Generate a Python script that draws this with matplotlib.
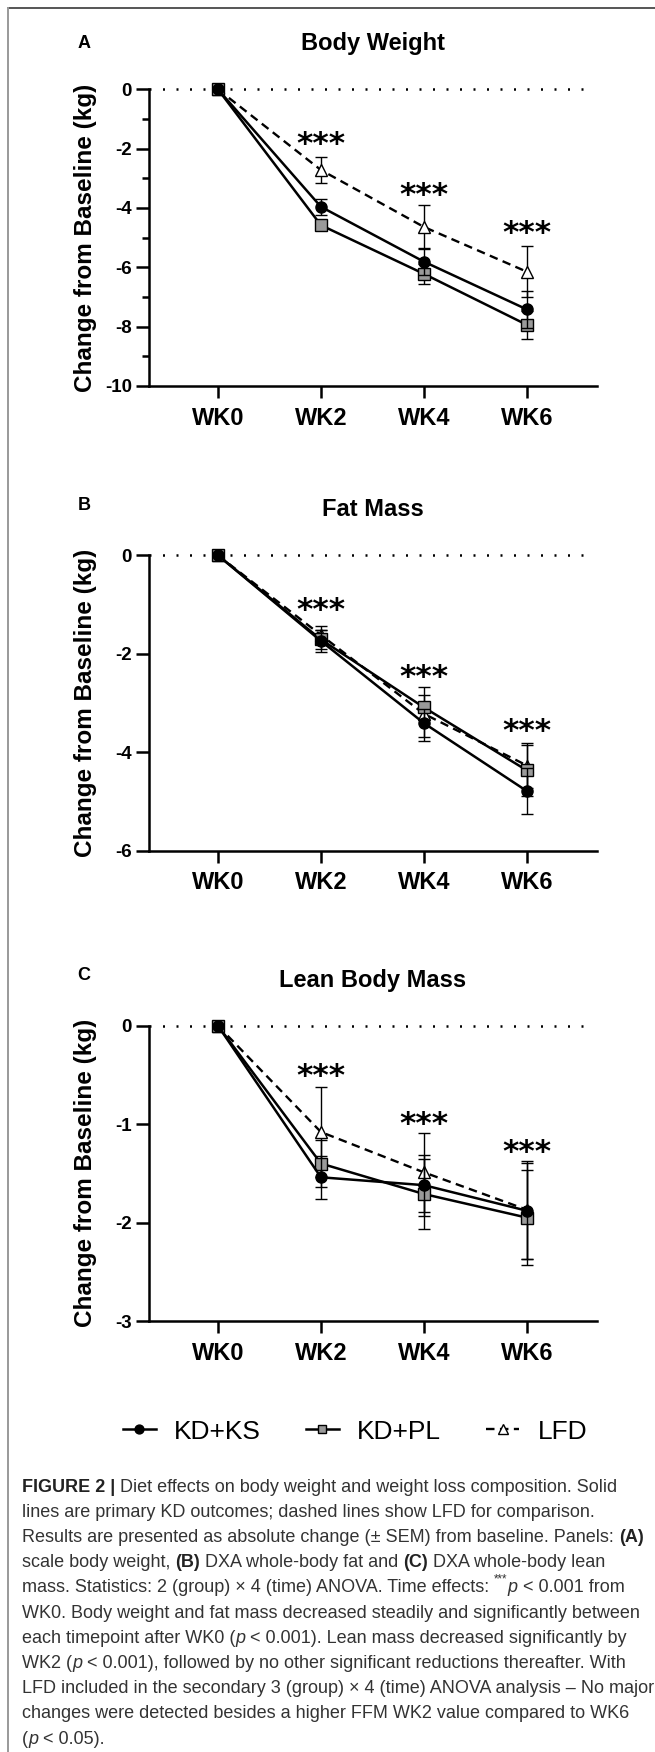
import matplotlib
matplotlib.use("Agg")
import matplotlib.pyplot as plt
from matplotlib.lines import Line2D
from matplotlib.ticker import MultipleLocator
from matplotlib import font_manager

plt.rcParams['font.family'] = ['Liberation Sans', 'DejaVu Sans']

# ---------------- data ----------------
weeks = ["WK0", "WK2", "WK4", "WK6"]
groups = ["KD+KS", "KD+PL", "LFD"]

# Body weight (kg change)
bw_kdks = [0.0, -3.96, -5.81, -7.42]
bw_kdks_err = [0.0, 0.26, 0.45, 0.63]
bw_kdpl = [0.0, -4.58, -6.22, -7.94]
bw_kdpl_err = [0.0, 0.15, 0.34, 0.48]
bw_lfd = [0.0, -2.72, -4.64, -6.15]
bw_lfd_err = [0.0, 0.45, 0.74, 0.86]
bw_stars = [-1.53, -3.23, -4.53]

# Fat mass
fm_kdks = [0.0, -1.74, -3.41, -4.79]
fm_kdks_err = [0.0, 0.23, 0.29, 0.47]
fm_kdpl = [0.0, -1.71, -3.09, -4.37]
fm_kdpl_err = [0.0, 0.20, 0.25, 0.52]
fm_lfd = [0.0, -1.62, -3.22, -4.27]
fm_lfd_err = [0.0, 0.19, 0.55, 0.45]
fm_stars = [-0.91, -2.29, -3.38]

# Lean body mass
lm_kdks = [0.0, -1.54, -1.62, -1.88]
lm_kdks_err = [0.0, 0.22, 0.31, 0.49]
lm_kdpl = [0.0, -1.40, -1.71, -1.95]
lm_kdpl_err = [0.0, 0.24, 0.36, 0.48]
lm_lfd = [0.0, -1.08, -1.49, -1.87]
lm_lfd_err = [0.0, 0.46, 0.40, 0.50]
lm_stars = [-0.42, -0.90, -1.19]

titles = ["Body Weight", "Fat Mass", "Lean Body Mass"]
letters = ["A", "B", "C"]
ylims = [(-10, 0), (-6, 0), (-3, 0)]
ymajor = [2, 2, 1]
yminor = [1, None, None]
ylabel = "Change from Baseline (kg)"

caption_lines = [
    [("FIGURE 2 | ", "b"), ("Diet effects on body weight and weight loss composition. Solid", "r")],
    [("lines are primary KD outcomes; dashed lines show LFD for comparison.", "r")],
    [("Results are presented as absolute change (\u00b1 SEM) from baseline. Panels: ", "r"), ("(A)", "b")],
    [("scale body weight, ", "r"), ("(B)", "b"), (" DXA whole-body fat and ", "r"), ("(C)", "b"),
     (" DXA whole-body lean", "r")],
    [("mass. Statistics: 2 (group) \u00d7 4 (time) ANOVA. Time effects: ", "r"), ("***", "s"), ("p", "i"),
     (" < 0.001 from", "r")],
    [("WK0. Body weight and fat mass decreased steadily and significantly between", "r")],
    [("each timepoint after WK0 (", "r"), ("p", "i"), (" < 0.001). Lean mass decreased significantly by", "r")],
    [("WK2 (", "r"), ("p", "i"), (" < 0.001), followed by no other significant reductions thereafter. With", "r")],
    [("LFD included in the secondary 3 (group) \u00d7 4 (time) ANOVA analysis \u2013 No major", "r")],
    [("changes were detected besides a higher FFM WK2 value compared to WK6", "r")],
    [("(", "r"), ("p", "i"), (" < 0.05).", "r")],
]

panels = [
    (bw_kdks, bw_kdks_err, bw_kdpl, bw_kdpl_err, bw_lfd, bw_lfd_err, bw_stars),
    (fm_kdks, fm_kdks_err, fm_kdpl, fm_kdpl_err, fm_lfd, fm_lfd_err, fm_stars),
    (lm_kdks, lm_kdks_err, lm_kdpl, lm_kdpl_err, lm_lfd, lm_lfd_err, lm_stars),
]

# caption font: prefer a narrow sans if installed
cap_family = "Liberation Sans"
try:
    font_manager.findfont(font_manager.FontProperties(family="Liberation Sans Narrow"),
                          fallback_to_default=False)
    cap_family = "Liberation Sans Narrow"
except Exception:
    pass

# ---------------- layout (pixels) ----------------
W, H = 655, 1752
fig = plt.figure(figsize=(W / 100, H / 100), dpi=100)


def fx(px):
    return px / W


def fy(py):
    return 1 - py / H


ax_left, ax_right = 149, 597
ax_tops = [89.3, 555.3, 1025.7]
ax_bots = [386.0, 850.7, 1321.0]
title_y = [43.5, 509.5, 980.0]
letter_y = [43.0, 505.0, 976.0]
xlim = (-0.669, 3.68)
zero_end = 3.60

xpos = list(range(len(weeks)))
handles = None
for i, (kdks, kdks_e, kdpl, kdpl_e, lfd, lfd_e, stars) in enumerate(panels):
    ax = fig.add_axes([fx(ax_left), fy(ax_bots[i]), (ax_right - ax_left) / W,
                       (ax_bots[i] - ax_tops[i]) / H])
    ax.set_xlim(*xlim)
    ax.set_ylim(*ylims[i])
    for s in ["top", "right"]:
        ax.spines[s].set_visible(False)
    for s in ["left", "bottom"]:
        ax.spines[s].set_linewidth(1.8)

    ax.hlines(0, xlim[0], zero_end, colors="black", linestyles=(0, (0.8, 4.6)),
              linewidth=1.8, zorder=1, clip_on=False)

    common = dict(ecolor="black", elinewidth=1.0, capsize=4.5, capthick=1.0,
                  clip_on=False, markeredgecolor="black")
    c3 = ax.errorbar(xpos, lfd, yerr=lfd_e, color="black", linestyle=(0, (3.6, 2.3)),
                     linewidth=1.7, marker="^", markersize=9, markerfacecolor="white",
                     markeredgewidth=1.0, zorder=3, **common)
    c2 = ax.errorbar(xpos, kdpl, yerr=kdpl_e, color="black", linestyle="-", linewidth=1.8,
                     marker="s", markersize=8, markerfacecolor="#9a9a9a",
                     markeredgewidth=1.0, zorder=4, **common)
    c1 = ax.errorbar(xpos, kdks, yerr=kdks_e, color="black", linestyle="-", linewidth=1.8,
                     marker="o", markersize=8, markerfacecolor="black",
                     markeredgewidth=1.0, zorder=5, **common)
    for c in (c1, c2, c3):
        for art in c.lines[1] + c.lines[2]:
            art.set_clip_on(False)
    if handles is None:
        handles = [c1.lines[0], c2.lines[0], c3.lines[0]]

    # significance stars
    fs_star = 22.5
    for xs, ys in zip(xpos[1:], stars):
        ax.annotate("***", xy=(xs, ys), xytext=(0, -0.59 * fs_star), textcoords="offset points",
                    ha="center", va="baseline", fontsize=fs_star, fontweight="bold",
                    fontfamily="DejaVu Sans", annotation_clip=False)

    ax.set_xticks(xpos)
    ax.set_xticklabels(weeks, fontsize=17, fontweight="bold")
    ax.yaxis.set_major_locator(MultipleLocator(ymajor[i]))
    if yminor[i]:
        ax.yaxis.set_minor_locator(MultipleLocator(yminor[i]))
    ax.set_yticks(ax.get_yticks())
    ax.set_yticklabels([f"{v:g}" for v in ax.get_yticks()], fontsize=13.5, fontweight="bold")
    ax.set_ylim(*ylims[i])
    ax.tick_params(axis="x", direction="out", length=8.9, width=1.8, pad=6)
    ax.tick_params(axis="y", which="major", direction="out", length=9.4, width=1.8, pad=3)
    ax.tick_params(axis="y", which="minor", direction="out", length=5, width=1.8)

    ax.set_ylabel(ylabel, fontsize=17.5, fontweight="bold", va="center")
    ax.yaxis.set_label_coords((86 - ax_left) / (ax_right - ax_left), 0.5)

    fig.text(fx((ax_left + ax_right) / 2), fy(title_y[i]), titles[i], ha="center", va="center",
             fontsize=17, fontweight="bold")
    fig.text(fx(84), fy(letter_y[i]), letters[i], ha="center", va="center",
             fontsize=13, fontweight="bold")

# legend
fig.legend(handles, groups, loc="center", bbox_to_anchor=(fx(355), fy(1431.7)), ncol=3,
           frameon=False, fontsize=19, handlelength=1.25, handletextpad=0.7,
           columnspacing=1.7, markerscale=0.8)

# frame lines
fig.add_artist(Line2D([fx(7.5), 1.0], [fy(8), fy(8)], transform=fig.transFigure,
                      color="#555555", linewidth=1.4))
fig.add_artist(Line2D([fx(7.5), fx(7.5)], [fy(8), 0.0], transform=fig.transFigure,
                      color="#999999", linewidth=1.4))

# caption
renderer = fig.canvas.get_renderer()
cap_color = "#333333"


def style_kw(kind, fs):
    kw = dict(fontsize=fs, color=cap_color, fontfamily=cap_family)
    if kind == "b":
        kw.update(fontweight="bold", color="#222222")
    elif kind == "i":
        kw.update(fontstyle="italic")
    elif kind == "s":
        kw.update(fontsize=fs * 0.65)
    return kw


def text_width(s, kw):
    t = fig.text(0, 0, s, **kw)
    w = t.get_window_extent(renderer).width
    t.remove()
    return w


def space_width(kw):
    return text_width("a a", kw) - text_width("aa", kw)


base = 12.0
ref_w = text_width("".join(s for s, _ in caption_lines[5]), style_kw("r", base))
cap_fs = min(base * (639 - 22) / ref_w, 14.0)

cap_x0 = 22
cap_y0 = 1485
cap_dy = 25.2
for li, segs in enumerate(caption_lines):
    x = cap_x0
    y = cap_y0 + li * cap_dy
    for s, kind in segs:
        kw = style_kw(kind, cap_fs)
        sw = space_width(kw)
        lead = len(s) - len(s.lstrip(" "))
        trail = len(s) - len(s.rstrip(" "))
        core = s.strip(" ")
        x += lead * sw
        yy = y - (cap_fs * 0.45 * 100 / 72 if kind == "s" else 0)
        fig.text(fx(x), fy(yy), core, ha="left", va="center_baseline", **kw)
        x += text_width(core, kw) + trail * sw

fig.savefig("out.png", dpi=100)
